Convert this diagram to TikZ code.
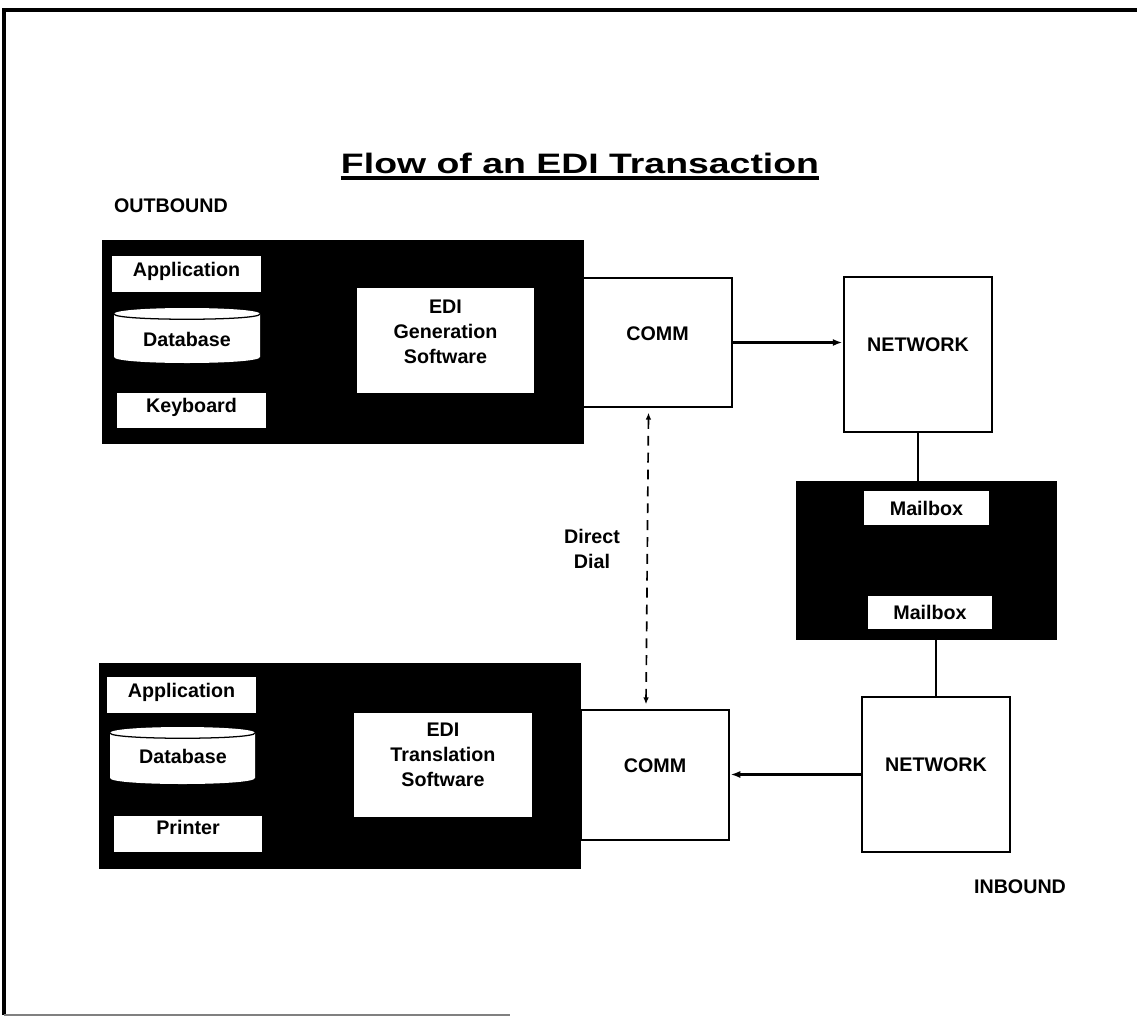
\documentclass[tikz,border=0pt]{standalone}
\usepackage{fontspec}
\setmainfont{Liberation Sans}
\usepackage{graphicx}
\usepackage{tikz}
\usetikzlibrary{arrows.meta,positioning,calc,fit}

\begin{document}
\begin{tikzpicture}[
      x=0.025cm, y=-0.025cm,
      lbl/.style={font=\fontsize{14}{17.7}\selectfont\bfseries, align=center, inner sep=0pt},
      slab/.style={fill=black, draw=black, inner sep=0pt},
      pane/.style={fill=white, inner sep=0pt},
      boxw/.style={draw, fill=white, line width=2pt, inner sep=0pt},
      arr/.style={-{Latex[length=7pt,width=5pt]}, line width=1.8pt},
      link/.style={line width=2pt},
      dial/.style={{Latex[length=5pt,width=4pt]}-{Latex[length=5pt,width=4pt]}, line width=1.2pt, dash pattern=on 7pt off 5pt}
    ]
      \useasboundingbox (0,0) rectangle (1137,1019);
      % frame of the page
      \draw[line width=2.4pt] (4,1015) -- (4,10) -- (1137,10);
      \draw[gray, line width=1pt] (4,1015) -- (510,1015);

      % title and side labels
      \node[lbl, font=\fontsize{20}{24}\selectfont\bfseries] (title) at (580,163) {\scalebox{1.33}[1]{Flow of an EDI Transaction}};
      \draw[line width=2.4pt] ([yshift=-3pt]title.south west) -- ([yshift=-3pt]title.south east);
      \node[lbl] (outlbl) at (171,206) {OUTBOUND};
      \node[lbl] (inlbl) at (1020,887) {INBOUND};

      % outbound side
      \node[slab, fit={(102,240) (583,443)}] (sender) {};
      \node[pane, fit={(112,256) (261,292)}, label={[lbl, yshift=1.5pt]center:Application}] (app1) {};
      \fill[white] (114,314) -- (114,357) .. controls (114,365) and (260,365) .. (260,357) -- (260,314) .. controls (260,306) and (114,306) .. cycle;
      \draw[line width=0.9pt] (114,314) .. controls (114,321) and (260,321) .. (260,314);
      \node[lbl] (db1) at (187,339) {Database};
      \node[pane, fit={(117,393) (266,428)}] (kbd) {};
      \node[lbl, below=3.5pt of kbd.north] {Keyboard};
      \node[pane, fit={(357,288) (534,393)}, label={[lbl, yshift=6.4pt]center:EDI\\Generation\\Software}] (gen) {};
      \node[boxw, fit={(583,278) (732,407)}, label={[lbl, yshift=6.4pt]center:COMM}] (comm1) {};

      % inbound side
      \node[slab, fit={(99,663) (580,868)}] (receiver) {};
      \node[pane, fit={(107,677) (256,713)}, label={[lbl, yshift=1.5pt]center:Application}] (app2) {};
      \fill[white] (110,733) -- (110,778) .. controls (110,786) and (255,786) .. (255,778) -- (255,733) .. controls (255,725) and (110,725) .. cycle;
      \draw[line width=0.9pt] (110,733) .. controls (110,740) and (255,740) .. (255,733);
      \node[lbl] (db2) at (183,756) {Database};
      \node[pane, fit={(114,816) (262,852)}] (prn) {};
      \node[lbl, below=3pt of prn.north] {Printer};
      \node[pane, fit={(354,713) (532,817)}, label={[lbl, yshift=7pt]center:EDI\\Translation\\Software}] (trans) {};
      \node[boxw, fit={(581,710) (729,840)}, label={[lbl, yshift=6.4pt]center:COMM}] (comm2) {};

      % network and mailboxes
      \node[boxw, fit={(844,277) (992,432)}, label={[lbl, yshift=7pt]center:NETWORK}] (net1) {};
      \node[boxw, fit={(862,697) (1010,852)}, label={[lbl, yshift=7pt]center:NETWORK}] (net2) {};
      \node[slab, fit={(796,481) (1056,639)}] (mbox) {};
      \node[pane, fit={(864,491) (989,525)}, label={[lbl]center:Mailbox}] (mail1) {};
      \node[pane, fit={(868,596) (992,629)}, label={[lbl]center:Mailbox}] (mail2) {};

      \node[lbl] (dd) at (592,549) {Direct\\Dial};

      % connectors
      \draw[arr] (comm1.east) -- (comm1.east -| net1.west);
      \draw[arr] (net2.west) -- (net2.west -| comm2.east);
      \draw[link] (net1.south) -- (net1.south |- mbox.north);
      \draw[link] (net2.north) -- (net2.north |- mbox.south);
      \draw[dial] ([xshift=-6.4pt,yshift=-3pt]comm1.south) -- ([xshift=-6.4pt,yshift=3pt]comm2.north);
    \end{tikzpicture}
\end{document}
